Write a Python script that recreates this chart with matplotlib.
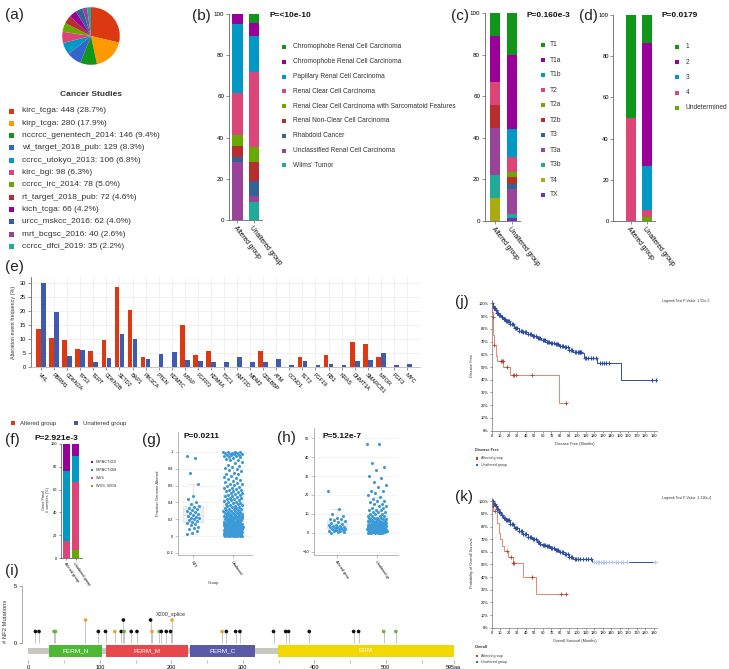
import numpy as np
import matplotlib
matplotlib.use('Agg')
import matplotlib.pyplot as plt
from matplotlib.patches import Rectangle

plt.rcParams['font.family'] = ['Liberation Sans', 'DejaVu Sans']

# ---------------- DATA ----------------
studies = ["kirc_tcga", "kirp_tcga", "nccrcc_genentech_2014", "wt_target_2018_pub",
           "ccrcc_utokyo_2013", "kirc_bgi", "ccrcc_irc_2014", "rt_target_2018_pub",
           "kich_tcga", "urcc_mskcc_2016", "mrt_bcgsc_2016", "ccrcc_dfci_2019"]
study_counts = [448, 280, 146, 129, 106, 98, 78, 72, 66, 62, 40, 35]

b_cats = ["Chromophobe Renal Cell Carcinoma", "Chromophobe Renal Cell Carcinoma",
          "Papillary Renal Cell Carcinoma", "Renal Clear Cell Carcinoma",
          "Renal Clear Cell Carcinoma with Sarcomatoid Features",
          "Renal Non-Clear Cell Carcinoma", "Rhabdoid Cancer",
          "Unclassified Renal Cell Carcinoma", "Wilms' Tumor"]
b_altered = [0, 4.9, 33.6, 20.2, 5.2, 5.4, 2.4, 28.3, 0]
b_unaltered = [4.5, 6.2, 17.3, 36.4, 7.3, 9.4, 7.2, 3.1, 8.6]

c_cats = ["T1", "T1a", "T1b", "T2", "T2a", "T2b", "T3", "T3a", "T3b", "T4", "TX"]
c_altered = [11.1, 22.2, 0, 11.1, 0, 11.1, 0, 22.3, 11.1, 11.1, 0]
c_unaltered = [20, 36, 13.4, 6.9, 2.4, 3.7, 2.4, 12, 1.9, 0, 1.3]

d_cats = ["1", "2", "3", "4", "Undetermined"]
d_altered = [50, 0, 0, 50, 0]
d_unaltered = [13.4, 59.8, 21.5, 3.5, 1.8]

f_cats = ["IMPACT410", "IMPACT468", "WXS", "WXS, WGS"]
f_altered = [23.4, 62.0, 14.6, 0]
f_unaltered = [10.2, 23.4, 59.1, 7.3]

genes = ["VHL", "PBRM1", "CDKN2A", "TP53", "TERT", "CDKN2B", "SETD2", "BAP1", "PIK3CA",
         "PTEN", "KDM5C", "MTAP", "FGFR3", "KDM6A", "TSC1", "KMT2D", "MDM2", "CREBBP",
         "ATM", "CCND1", "TET2", "FGF19", "RB1", "KRAS", "DNMT3A", "SMARCB1", "MTOR",
         "FGF3", "MYC"]
e_altered = [13.7, 10.4, 9.5, 6.4, 5.6, 9.5, 28.7, 20.5, 3.5, 0.1, 0.1, 15.0, 4.4, 5.6,
             0.1, 0.1, 0.1, 5.6, 0.1, 0.1, 3.5, 0.1, 4.3, 0.1, 9.0, 8.2, 3.6, 0.1, 0.1]
e_unaltered = [30.0, 19.6, 3.8, 6.0, 1.7, 3.2, 11.9, 10.1, 3.0, 4.5, 5.2, 2.4, 2.3, 1.8,
               1.7, 3.6, 1.7, 1.7, 2.7, 0.6, 2.0, 0.6, 1.1, 0.8, 2.1, 2.5, 5.0, 0.7, 1.2]

g_altered = [0.95, 0.93, 0.75, 0.62, 0.48, 0.44, 0.40, 0.38, 0.36, 0.35, 0.33, 0.32,
             0.31, 0.30, 0.28, 0.27, 0.26, 0.25, 0.24, 0.23, 0.22, 0.21, 0.20, 0.19,
             0.18, 0.17, 0.16, 0.14, 0.13, 0.11, 0.10, 0.08, 0.06, 0.04, 0.02]
g_unaltered = [1.0, 1.0, 1.0, 0.995, 0.99, 0.99, 0.985, 0.98, 0.98, 0.975, 0.97, 0.965,
               0.96, 0.955, 0.95, 0.945, 0.94, 0.93, 0.92, 0.91,
               0.905, 0.88, 0.872, 0.85, 0.838, 0.82, 0.81, 0.795, 0.78, 0.776, 0.755,
               0.74, 0.733, 0.72, 0.705, 0.69, 0.684, 0.67, 0.66, 0.648, 0.635, 0.62,
               0.615, 0.602, 0.59, 0.585, 0.577, 0.57, 0.561, 0.553, 0.546, 0.538,
               0.53, 0.522, 0.517, 0.509, 0.5, 0.494, 0.487, 0.48, 0.472, 0.466,
               0.458, 0.451, 0.444, 0.437, 0.43, 0.424, 0.418, 0.41, 0.404, 0.397,
               0.391, 0.385, 0.378, 0.372, 0.366, 0.36, 0.354, 0.349, 0.343, 0.338,
               0.332, 0.327, 0.321, 0.316, 0.311, 0.306, 0.301, 0.297, 0.292, 0.288,
               0.283, 0.279, 0.275, 0.271, 0.267, 0.263, 0.259, 0.255, 0.251, 0.247,
               0.243, 0.239, 0.236, 0.232, 0.228, 0.225, 0.221, 0.218, 0.214, 0.211,
               0.207, 0.204, 0.2, 0.197, 0.194, 0.19, 0.187, 0.184, 0.181, 0.178,
               0.175, 0.172, 0.169, 0.166, 0.163, 0.16, 0.157, 0.154, 0.151, 0.148,
               0.145, 0.142, 0.139, 0.136, 0.133, 0.13, 0.127, 0.124, 0.121, 0.118,
               0.115, 0.112, 0.109, 0.106, 0.103, 0.1, 0.097, 0.094, 0.091, 0.088,
               0.085, 0.082, 0.079, 0.076, 0.073, 0.07, 0.067, 0.064, 0.061, 0.058,
               0.055, 0.052, 0.049, 0.046, 0.043, 0.04, 0.037, 0.034, 0.031, 0.028,
               0.025, 0.022, 0.019, 0.016, 0.013, 0.01, 0.008, 0.006, 0.004, 0.002,
               0.0, 0.0, 0.001, 0.003, 0.005, 0.007, 0.012, 0.018, 0.024, 0.03,
               0.036, 0.042, 0.048, 0.054, 0.06, 0.066, 0.072, 0.078, 0.084, 0.09,
               0.096, 0.102, 0.108, 0.114, 0.12, 0.126, 0.132, 0.138, 0.144, 0.15,
               0.16, 0.17, 0.18, 0.19, 0.2, 0.21, 0.22, 0.23, 0.24, 0.25, 0.26, 0.27]

h_altered = [22, 12.5, 10, 9, 8, 7.5, 7, 6.5, 6, 5.5, 5, 4.5, 4, 4, 3.5, 3.5, 3, 3, 3,
             2.5, 2.5, 2, 2, 2, 1.5, 1.5, 1, 1, 1, 0.5, 0.5, 0]
h_unaltered = [47, 47, 37, 35, 33, 30, 29, 27, 25, 24, 22, 22, 21, 20, 19, 18, 17, 17,
               16, 15, 15, 14, 14, 13, 13, 12, 12, 12, 11, 11, 11, 10, 10, 10, 9, 9, 9,
               9, 8, 8, 8, 8, 7, 7, 7, 7, 7, 6, 6, 6, 6, 6, 6, 5.5, 5.5, 5, 5, 5, 5,
               5, 4.8, 4.6, 4.5, 4.4, 4.3, 4.2, 4.1, 4, 4, 3.9, 3.8, 3.7, 3.6, 3.5,
               3.5, 3.4, 3.3, 3.2, 3.1, 3, 3, 2.9, 2.8, 2.7, 2.6, 2.5, 2.5, 2.4, 2.3,
               2.2, 2.1, 2, 2, 2, 1.9, 1.8, 1.7, 1.6, 1.5, 1.5, 1.5, 1.4, 1.3, 1.2,
               1.1, 1, 1, 1, 1, 0.9, 0.8, 0.7, 0.6, 0.5, 0.5, 0.5, 0.4, 0.3, 0.2, 0.1,
               0, 0, 0, 0, 0, 0.2, 0.4, 0.6, 0.8, 1.2, 1.4, 1.6, 1.8, 2.2, 2.4, 2.6,
               2.8, 3.2, 3.4, 3.6, 3.8, 0.1, 0.3, 0.7, 0.9, 1.1, 1.3, 1.7, 1.9, 0.15]

domains = ["FERM_N", "FERM_M", "FERM_C", "ERM"]
dom_start = [29, 108, 226, 349]
dom_end = [103, 223, 317, 595]
protein_len = 595
mut_pos = [10, 15, 36, 38, 80, 98, 108, 121, 130, 133, 134, 144, 152, 171, 173, 183,
           186, 193, 199, 201, 271, 277, 290, 296, 343, 360, 364, 393, 455, 462, 497, 514]
mut_cnt = [1, 1, 1, 1, 2, 1, 1, 1, 1, 2, 1, 1, 1, 2, 1, 1, 1, 1, 1, 2, 1, 1, 1, 1, 1,
           1, 1, 1, 1, 1, 1, 1]
mut_type = ["trunc", "trunc", "missense", "missense", "splice", "trunc", "trunc", "splice",
            "trunc", "trunc", "missense", "trunc", "trunc", "trunc", "splice", "missense",
            "trunc", "trunc", "trunc", "splice", "splice", "trunc", "trunc", "trunc",
            "trunc", "trunc", "trunc", "trunc", "trunc", "trunc", "missense", "missense"]

dfs_alt_t = [0, 0.5, 1, 2, 3, 4.7, 6.6, 13, 21.5, 79, 87]
dfs_alt_s = [100, 93, 89, 75, 67, 59, 55, 50, 44, 22, 22]
dfs_alt_cens = [1.2, 3.2, 10.5, 11.7, 12.9, 18.4, 24.6, 26.2, 28.5, 47.6, 87]
dfs_un_t = [0, 1, 2, 4, 6, 8, 10.5, 13, 16, 21, 26, 31.6, 36, 42, 47, 52.7, 58, 63, 68,
            73.7, 79, 84, 90, 95, 100, 105.7, 108, 123.7, 152, 195]
dfs_un_s = [100, 98, 96.5, 94.5, 92.5, 91, 89.5, 87.5, 86, 83.8, 81, 78.5, 77.5, 76, 74.5,
            72.8, 71.5, 70, 69, 68, 66.5, 65.4, 63.5, 62, 61.5, 61, 57, 53, 40, 40]
dfs_un_cens = [0.5, 1.5, 2.5, 3.5, 4.5, 5.5, 6.5, 7.5, 9, 10, 11.5, 12.5, 14, 15, 17, 18,
               19.5, 20.5, 22, 23.5, 25, 27, 28.5, 30, 32.5, 34, 35.5, 37, 39, 40.5, 43,
               44.5, 46, 48, 50, 51.5, 54, 55.5, 57, 59.5, 61, 62.5, 64.5, 66, 67.5,
               69.5, 71, 72.5, 75, 76.5, 78, 80.5, 82, 83.5, 86, 87.5, 89, 91, 93,
               94.5, 97, 99, 101, 102, 103, 104, 105, 109, 111, 113, 116, 119, 122,
               127, 129, 131, 134, 137, 188, 193]
os_alt_t = [0, 0.4, 2, 6, 8, 10, 12, 14.5, 19.5, 24.6, 37, 52, 87]
os_alt_s = [100, 96, 92, 83, 75, 70, 65, 61, 56, 51, 40, 27, 27]
os_alt_cens = [1.2, 3.5, 18.3, 22.2, 25.4, 26.5, 47.6, 81.2, 87]
os_un_t = [0, 2, 4, 6, 8, 10.5, 13, 16, 21, 26, 31.6, 36, 42, 47, 52.7, 56, 58.5, 63, 68,
           73.7, 79, 84, 90, 95, 103, 115, 118, 195]
os_un_s = [100, 98, 96, 94, 91.5, 89, 87, 85, 82.4, 79, 76.3, 74.5, 71.8, 70, 67.4, 66,
           65.8, 64.5, 63, 61.3, 59.5, 58.2, 56, 54.7, 54.2, 54, 51.6, 51.6]
os_un_cens = [0.5, 1.5, 2.5, 3.5, 4.5, 5.5, 6.5, 7.5, 9, 10, 11.5, 12.5, 14, 15, 17, 18,
              19.5, 20.5, 22, 23.5, 25, 27, 28.5, 30, 32.5, 34, 35.5, 37, 39, 40.5, 43,
              44.5, 46, 48, 50, 51.5, 54, 55.5, 57, 59.5, 61, 62.5, 64.5, 66, 67.5,
              69.5, 71, 72.5, 75, 76.5, 78, 80.5, 82, 83.5, 86, 87.5, 89, 91, 93,
              94.5, 97, 99, 101, 104, 107, 110, 113, 116]
os_un_cens_late = [120, 122, 124, 126, 128, 130, 132, 134, 137, 141, 145, 148, 151, 154,
                   158, 191, 195]

# ---------------- STYLE ----------------
pal = ['#dc3912', '#ff9900', '#109618', '#3366cc', '#0099c6', '#dd4477', '#66aa00',
       '#b82e2e', '#990099', '#316395', '#994499', '#22aa99']
b_colors = ['#109618', '#990099', '#0099c6', '#dd4477', '#66aa00', '#b82e2e', '#316395',
            '#994499', '#22aa99']
c_colors = ['#109618', '#990099', '#0099c6', '#dd4477', '#66aa00', '#b82e2e', '#316395',
            '#994499', '#22aa99', '#aaaa11', '#6633cc']
d_colors = ['#109618', '#990099', '#0099c6', '#dd4477', '#66aa00']
f_colors = ['#990099', '#0099c6', '#dd4477', '#66aa00']
RED = '#dc3912'
BLUE = '#3e5bb0'
PT = '#3d9ad8'
KM_RED = '#e4735a'
KM_BLUE = '#2f4f9e'

W, H = 729, 669
fig = plt.figure(figsize=(W / 100, H / 100), dpi=100)
ov = fig.add_axes([0, 0, 1, 1])
ov.set_xlim(0, W)
ov.set_ylim(H, 0)
ov.axis('off')


def pax(x0, y0, x1, y1):
    a = fig.add_axes([x0 / W, 1 - y1 / H, (x1 - x0) / W, (y1 - y0) / H])
    a.patch.set_alpha(0)
    return a


def T(x, y, s, **kw):
    kw.setdefault('va', 'center')
    kw.setdefault('ha', 'left')
    ov.text(x, y, s, **kw)


def sq(x, y, size, color):
    ov.add_patch(Rectangle((x - size / 2, y - size / 2), size, size, color=color, lw=0))


def style_axes(a, lw=0.6, col='#666666', ls=4.5):
    for s in ['top', 'right']:
        a.spines[s].set_visible(False)
    for s in ['left', 'bottom']:
        a.spines[s].set_linewidth(lw)
        a.spines[s].set_color(col)
    a.tick_params(labelsize=ls, length=2, width=0.5, color=col, pad=1.5)


def stacked(a, alt, un, colors, width):
    bot = [0.0, 0.0]
    for k in reversed(range(len(alt))):
        v = [alt[k], un[k]]
        a.bar([0, 1], v, width, bottom=bot, color=colors[k], linewidth=0)
        bot = [bot[0] + v[0], bot[1] + v[1]]
    a.set_ylim(0, 100)
    a.set_yticks([0, 20, 40, 60, 80, 100])


LET = dict(fontsize=11, color='#222222')
PST = dict(fontsize=6, fontweight='bold', color='#111111')

# ---------------- (a) ----------------
T(5, 14.5, '(a)', **LET)
axa = pax(55, 0, 127, 72)
axa.pie(study_counts, colors=pal, startangle=90, counterclock=False,
        wedgeprops=dict(linewidth=0))
axa.set_aspect('equal')
T(91, 94, 'Cancer Studies', fontsize=6, fontweight='bold', ha='center', color='#333')
tot = sum(study_counts)
for i, (s, n) in enumerate(zip(studies, study_counts)):
    y = 111 + i * 12.3
    sq(12, y, 5, pal[i])
    T(22, y, f"{s}: {n} ({100 * n / tot:.1f}%)", fontsize=6, color='#333')

# ---------------- (b) ----------------
T(192, 16, '(b)', **LET)
axb = pax(229, 14, 262, 220)
stacked(axb, b_altered, b_unaltered, b_colors, 0.64)
axb.set_xlim(-0.52, 1.5)
style_axes(axb)
axb.set_xticks([0, 1])
axb.set_xticklabels(['Altered group', 'Unaltered group'], rotation=-52, ha='left',
                    rotation_mode='anchor', fontsize=4.8)
T(270, 15.7, 'P=<10e-10', **PST)
for i, c in enumerate(b_cats):
    y = 47 + i * 14.8
    sq(284, y, 4, b_colors[i])
    T(293, y, c, fontsize=4.8, color='#333')

# ---------------- (c) ----------------
T(451, 16, '(c)', **LET)
axc = pax(485, 13, 520, 221)
stacked(axc, c_altered, c_unaltered, c_colors, 0.59)
axc.set_xlim(-0.59, 1.47)
style_axes(axc)
axc.set_xticks([0, 1])
axc.set_xticklabels(['Altered group', 'Unaltered group'], rotation=-52, ha='left',
                    rotation_mode='anchor', fontsize=4.8)
T(527, 15.7, 'P=0.160e-3', **PST)
for i, c in enumerate(c_cats):
    y = 45 + i * 15
    sq(543, y, 4, c_colors[i])
    T(550, y, c, fontsize=4.8, color='#333')

# ---------------- (d) ----------------
T(579, 16, '(d)', **LET)
axd = pax(613, 15, 655, 221)
stacked(axd, d_altered, d_unaltered, d_colors, 0.63)
axd.set_xlim(-1.12, 1.5)
style_axes(axd)
axd.tick_params(axis='y', labelsize=4.2, pad=1)
axd.set_xticks([0, 1])
axd.set_xticklabels(['Altered group', 'Unaltered group'], rotation=-52, ha='left',
                    rotation_mode='anchor', fontsize=4.8)
T(662, 15.7, 'P=0.0179', **PST)
for i, c in enumerate(d_cats):
    y = 47 + i * 15.2
    sq(677, y, 4, d_colors[i])
    T(686, y, c, fontsize=4.8, color='#333')

# ---------------- (e) ----------------
T(5, 267, '(e)', **LET)
axe = pax(31, 277, 420, 367)
xg = np.arange(len(genes))
axe.bar(xg - 0.19, e_altered, 0.36, color=RED, linewidth=0, zorder=2)
axe.bar(xg + 0.19, e_unaltered, 0.36, color=BLUE, linewidth=0, zorder=2)
axe.set_xlim(-0.77, 29.0)
axe.set_ylim(0, 32.1)
axe.set_yticks([0, 5, 10, 15, 20, 25, 30])
axe.set_xticks(xg)
axe.set_xticklabels(genes, rotation=-45, ha='left', rotation_mode='anchor', fontsize=4)
axe.grid(True, color='#ececec', lw=0.5, zorder=0)
axe.set_axisbelow(True)
style_axes(axe, ls=4)
axe.spines['bottom'].set_color('#bbbbbb')
axe.set_ylabel('Alteration event frequency (%)', fontsize=3.9, labelpad=3, color='#333')
sq(13, 423, 4.5, RED)
T(20, 423, 'Altered group', fontsize=4.3, color='#333')
sq(76, 423, 4.5, BLUE)
T(83, 423, 'Unaltered group', fontsize=4.3, color='#333')

# ---------------- (f) ----------------
T(5, 440, '(f)', **LET)
axf = pax(61, 444, 82, 558)
stacked(axf, f_altered, f_unaltered, f_colors, 0.78)
axf.set_xlim(-0.61, 1.72)
style_axes(axf, ls=2.8)
axf.tick_params(length=1.2)
axf.set_xticks([0, 1])
axf.set_xticklabels(['Altered group', 'Unaltered group'], rotation=-55, ha='left',
                    rotation_mode='anchor', fontsize=2.8)
T(46, 500, 'Gene Panel\n# samples (%)', fontsize=2.8, rotation=90, ha='center',
  color='#333', multialignment='center')
T(35, 438, 'P=2.921e-3', **PST)
for i, c in enumerate(f_cats):
    y = 462 + i * 8
    sq(92, y, 2.6, f_colors[i])
    T(96, y, c, fontsize=2.8, color='#333')


# ---------------- scatter helper ----------------
def strip(a, data_list, widths):
    a.boxplot(data_list, positions=[0, 1], widths=0.52, patch_artist=True,
              showfliers=False, zorder=1,
              boxprops=dict(facecolor='#efefef', edgecolor='#dddddd', lw=0.5),
              whiskerprops=dict(color='#dddddd', lw=0.5),
              capprops=dict(color='#dddddd', lw=0.5),
              medianprops=dict(color='#dddddd', lw=0.5))
    for p, (vals, w) in enumerate(zip(data_list, widths)):
        n = len(vals)
        jit = np.array([((i * 0.6180339887) % 1.0 - 0.5) * 2 * w for i in range(n)])
        a.scatter(p + jit, vals, s=5, color=PT, linewidths=0, zorder=3)


# ---------------- (g) ----------------
T(142, 440, '(g)', **LET)
axg = pax(178, 432, 252, 555)
strip(axg, [g_altered, g_unaltered], [0.16, 0.24])
axg.set_xlim(-0.375, 1.475)
axg.set_ylim(-0.226, 1.238)
axg.set_yticks([-0.2, 0, 0.2, 0.4, 0.6, 0.8, 1])
axg.set_yticklabels(['-0.2', '0', '0.2', '0.4', '0.6', '0.8', '1'])
axg.grid(axis='y', color='#f0f0f0', lw=0.5)
style_axes(axg, col='#aaaaaa', ls=2.8)
axg.set_xticks([0, 1])
axg.set_xticklabels(['NF2', 'Unaltered'], rotation=-55, ha='left', rotation_mode='anchor',
                    fontsize=2.8)
axg.set_ylabel('Fraction Genome Altered', fontsize=3, labelpad=5, color='#333')
T(213, 583, 'Group', fontsize=3, ha='center', color='#333')
T(184, 437, 'P=0.0211', **PST)

# ---------------- (h) ----------------
T(277, 438, '(h)', **LET)
axh = pax(314, 428, 398, 555)
strip(axh, [h_altered, h_unaltered], [0.22, 0.24])
axh.set_xlim(-0.575, 1.525)
axh.set_ylim(-11.8, 55.4)
axh.set_yticks([-10, 0, 10, 20, 30, 40, 50])
axh.grid(axis='y', color='#f0f0f0', lw=0.5)
style_axes(axh, col='#aaaaaa', ls=2.8)
axh.set_xticks([0, 1])
axh.set_xticklabels(['Altered grou', 'Unaltered gr'], rotation=-55, ha='left',
                    rotation_mode='anchor', fontsize=2.8)
T(323, 437, 'P=5.12e-7', **PST)

# ---------------- (i) ----------------
T(5, 571, '(i)', **LET)
axi = pax(22, 583, 460, 660)
axi.set_xlim(-8.8, 603.8)
axi.set_ylim(-1.48, 5.22)
axi.add_patch(Rectangle((0, -0.96), protein_len, 0.53, color='#c8c8c0', lw=0, zorder=1))
dcol = ['#4db833', '#e8474b', '#5a5aa8', '#f0d800']
for name, s0, s1, cc in zip(domains, dom_start, dom_end, dcol):
    axi.add_patch(Rectangle((s0, -1.22), s1 - s0, 1.05, color=cc, lw=0, zorder=2))
    axi.text((s0 + s1) / 2, -0.69, name, color='white', fontsize=4.6, ha='center',
             va='center', zorder=3)
mcol = {'trunc': '#111111', 'missense': '#6ab04c', 'splice': '#e8a33d'}
axi.vlines(mut_pos, 0, mut_cnt, color='#bdbdbd', lw=0.6, zorder=1)
axi.scatter(mut_pos, mut_cnt, s=7, c=[mcol[t] for t in mut_type], linewidths=0, zorder=4)
axi.text(200, 2.45, 'X200_splice', fontsize=4, ha='center', va='center', color='#333')
for s in ['top', 'right', 'bottom']:
    axi.spines[s].set_visible(False)
axi.spines['left'].set_bounds(0, 5)
axi.spines['left'].set_linewidth(0.5)
axi.spines['left'].set_color('#888')
axi.set_yticks([0, 5])
axi.set_xticks([0, 100, 200, 300, 400, 500, 595])
axi.set_xticklabels(['0', '100', '200', '300', '400', '500', '595aa'])
axi.set_xticks([50, 150, 250, 350, 450, 550], minor=True)
axi.tick_params(labelsize=4, length=2, width=0.5, color='#888', pad=1.5)
axi.tick_params(which='minor', length=2, width=0.5, color='#aaa')
axi.set_ylabel('# NF2 Mutations', fontsize=4.2, labelpad=4, color='#333')


# ---------------- KM ----------------
def step_y(t, s, c):
    idx = np.searchsorted(np.array(t), np.array(c), side='right') - 1
    return np.array(s)[idx]


def km_axes(a):
    a.set_xlim(0, 193.6)
    a.set_ylim(-0.24, 102.6)
    a.set_xticks(np.arange(0, 191, 10))
    a.set_yticks(np.arange(0, 101, 10))
    a.set_yticklabels([f'{v}%' for v in range(0, 101, 10)])
    style_axes(a, lw=0.5, col='#777', ls=2.8)
    a.tick_params(length=1.2, pad=1)


T(455, 302, '(j)', **LET)
axj = pax(491.7, 300, 657, 431)
axj.step(dfs_un_t, dfs_un_s, where='post', color=KM_BLUE, lw=0.7)
axj.plot(dfs_un_cens, step_y(dfs_un_t, dfs_un_s, dfs_un_cens), '+', color=KM_BLUE, ms=2.6,
         mew=0.8)
axj.step(dfs_alt_t, dfs_alt_s, where='post', color=KM_RED, lw=0.6)
axj.plot(dfs_alt_cens, step_y(dfs_alt_t, dfs_alt_s, dfs_alt_cens), '+', color='#c0392b',
         ms=2.4, mew=0.6)
km_axes(axj)
axj.set_xlabel('Disease Free (Months)', fontsize=2.8, labelpad=3, color='#333')
axj.set_ylabel('Disease Free', fontsize=2.8, labelpad=3, color='#333')
T(662, 301, 'Logrank Test P-Value: 1.55e-5', fontsize=2.5, color='#333')
T(475, 450, 'Disease Free', fontsize=2.8, fontweight='bold', color='#333')
sq(477, 458.5, 2.4, RED)
T(480.7, 458.5, 'Altered group', fontsize=2.6, color='#333')
sq(477, 465, 2.4, '#3366cc')
T(480.7, 465, 'Unaltered group', fontsize=2.6, color='#333')

T(455, 497, '(k)', **LET)
axk = pax(491.7, 498, 657, 628)
axk.step(os_un_t, os_un_s, where='post', color=KM_BLUE, lw=0.7)
axk.plot(os_un_cens, step_y(os_un_t, os_un_s, os_un_cens), '+', color=KM_BLUE, ms=2.6,
         mew=0.8)
axk.plot(os_un_cens_late, step_y(os_un_t, os_un_s, os_un_cens_late), '+', color='#b9c9ea',
         ms=2.6, mew=0.8)
axk.step(os_alt_t, os_alt_s, where='post', color=KM_RED, lw=0.6)
axk.plot(os_alt_cens, step_y(os_alt_t, os_alt_s, os_alt_cens), '+', color='#c0392b',
         ms=2.4, mew=0.6)
km_axes(axk)
axk.set_xlabel('Overall Survival (Months)', fontsize=2.8, labelpad=3, color='#333')
axk.set_ylabel('Probability of Overall Survival', fontsize=2.8, labelpad=3, color='#333')
T(662, 498, 'Logrank Test P-Value: 1.116e-4', fontsize=2.5, color='#333')
T(475, 647, 'Overall', fontsize=2.8, fontweight='bold', color='#333')
sq(477, 655.7, 2.4, RED)
T(480.7, 655.7, 'Altered group', fontsize=2.6, color='#333')
sq(477, 661.7, 2.4, '#3366cc')
T(480.7, 661.7, 'Unaltered group', fontsize=2.6, color='#333')

fig.savefig('out.png', dpi=100)
